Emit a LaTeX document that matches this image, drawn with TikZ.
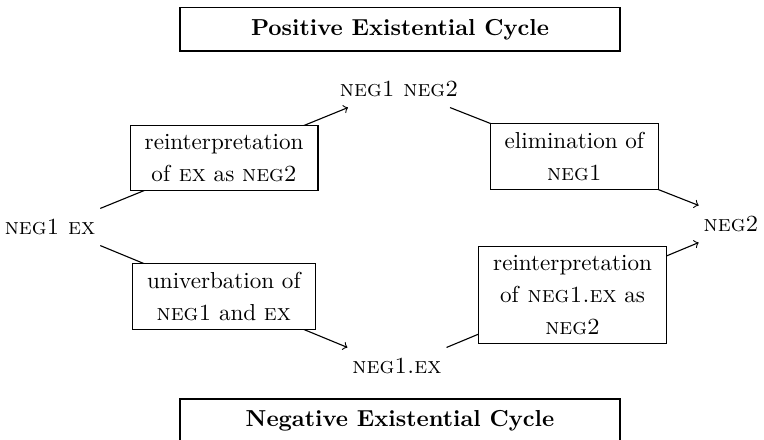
\documentclass[tikz,border=0pt]{standalone}
\usepackage{amsmath}
\usepackage{tikz}
\usepackage{xcolor}

\tikzset{
  stage/.style={inner xsep=2pt, inner ysep=4.6pt, text height=6.8pt, text depth=0.2pt},
  change/.style={rectangle, draw, fill=white, align=center, inner xsep=6.5pt, inner ysep=3.9pt},
  cycletitle/.style={rectangle, draw, minimum width=198pt, minimum height=19.4pt, font=\fontsize{10.4}{13.5}\selectfont\bfseries},
}

\begin{document}
\begin{tikzpicture}[x=0.45pt, y=-0.45pt, font=\fontsize{10.4}{14.5}\selectfont, line width=0.5pt]
\useasboundingbox (0,0) rectangle (764,439);
\node[cycletitle] (PosCycle) at (400,29.5) {Positive Existential Cycle};
\node[cycletitle] (NegCycle) at (400,420.5) {Negative Existential Cycle};

\node[stage] (N1Ex) at (50,227) {\textsc{neg1 ex}};
\node[stage] (N1N2) at (399,89) {\textsc{neg1 neg2}};
\node[stage] (N2) at (731,224) {\textsc{neg2}};
\node[stage] (N1dotEx) at (397,366) {\textsc{neg1.ex}};

\draw[->] (N1Ex.north east) -- node[change] {reinterpretation\\of \textsc{ex} as \textsc{neg2}} (N1N2.200);
\draw[->] (N1N2.340) -- node[change] {elimination of\\\textsc{neg1}} (N2.north west);
\draw[->] (N1Ex.south east) -- node[change] {univerbation of\\\textsc{neg1} and \textsc{ex}} (N1dotEx.north west);
\draw[->] (N1dotEx.north east) -- node[change] {reinterpretation\\of \textsc{neg1.ex} as\\\textsc{neg2}} (N2.south west);
\end{tikzpicture}
\end{document}
